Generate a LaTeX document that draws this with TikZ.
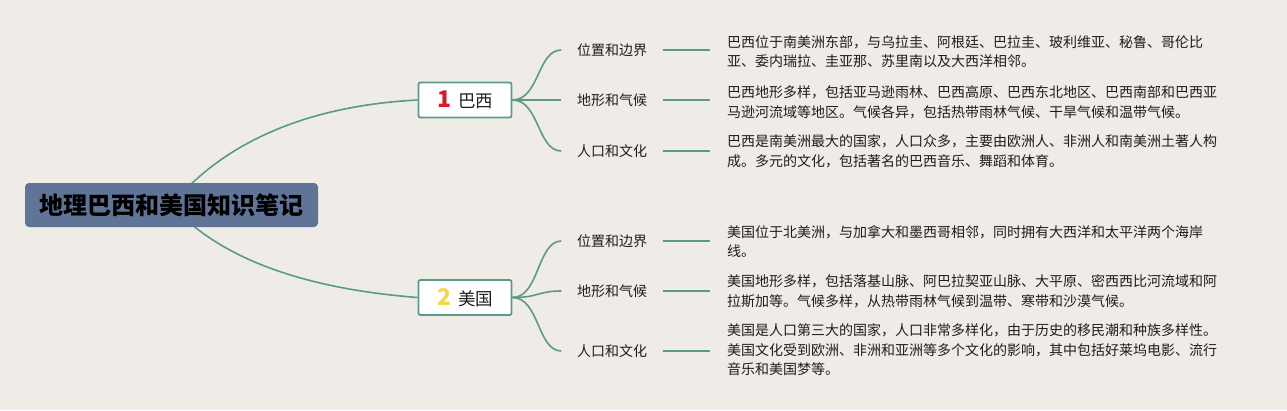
\documentclass[tikz,border=0pt]{standalone}
\usepackage{fontspec}
\setmainfont{Noto Sans CJK SC}
\usetikzlibrary{backgrounds}
\pgfdeclarelayer{canvas}
\pgfsetlayers{canvas,background,main}
\definecolor{bgc}{HTML}{EFEBE7}
\definecolor{teal}{HTML}{5B9A87}
\definecolor{rootc}{HTML}{5F7497}
\definecolor{numred}{HTML}{D7192B}
\definecolor{numyel}{HTML}{F2D84E}
\definecolor{txt}{HTML}{1E1E1E}
\tikzset{
  rootbox/.style={fill=rootc, rounded corners=4pt, minimum width=293pt, minimum height=44pt, inner sep=0pt, font=\fontsize{24}{24}\selectfont\bfseries, text=black},
  countrybox/.style={draw=teal, line width=1.8pt, fill=white, rounded corners=2pt, minimum width=93pt, minimum height=35pt, inner sep=0pt, text=txt},
  sublabel/.style={inner xsep=15.5pt, inner ysep=2pt, font=\fontsize{14}{14}\selectfont, text=txt},
  desc/.style={anchor=west, inner xsep=17pt, inner ysep=0pt, align=left, font=\fontsize{14}{19.6}\selectfont, text=txt},
  conn/.style={draw=teal, line width=1.6pt},
}
\newcommand{\cnum}[2]{{\fontsize{23}{23}\selectfont\bfseries\color{#1}#2}\hspace{7pt}}
\begin{document}
\begin{tikzpicture}[x=1pt,y=-1pt]
\begin{pgfonlayer}{canvas}
\fill[bgc] (0,0) rectangle (1287,410);
\end{pgfonlayer}
\useasboundingbox (0,0) rectangle (1287,410);

\node[rootbox] (root) at (171.5,205) {地理巴西和美国知识笔记};
\node[countrybox] (br) at (465,100) {\cnum{numred}{1}{\fontsize{17.5}{18}\selectfont 巴西}};
\node[countrybox] (us) at (465,297.5) {\cnum{numyel}{2}{\fontsize{17.5}{18}\selectfont 美国}};

\node[sublabel] (b1) at (612,50) {位置和边界};
\node[sublabel] (b2) at (612,100) {地形和气候};
\node[sublabel] (b3) at (612,151) {人口和文化};
\node[sublabel] (u1) at (612,241) {位置和边界};
\node[sublabel] (u2) at (612,291) {地形和气候};
\node[sublabel] (u3) at (612,351) {人口和文化};

\node[desc] (tb1) at (710,51.5) {巴西位于南美洲东部，与乌拉圭、阿根廷、巴拉圭、玻利维亚、秘鲁、哥伦比\\亚、委内瑞拉、圭亚那、苏里南以及大西洋相邻。};
\node[desc] (tb2) at (710,102.5) {巴西地形多样，包括亚马逊雨林、巴西高原、巴西东北地区、巴西南部和巴西亚\\马逊河流域等地区。气候各异，包括热带雨林气候、干旱气候和温带气候。};
\node[desc] (tb3) at (710,151.5) {巴西是南美洲最大的国家，人口众多，主要由欧洲人、非洲人和南美洲土著人构\\成。多元的文化，包括著名的巴西音乐、舞蹈和体育。};
\node[desc] (tu1) at (710,241.5) {美国位于北美洲，与加拿大和墨西哥相邻，同时拥有大西洋和太平洋两个海岸\\线。};
\node[desc] (tu2) at (710,291.5) {美国地形多样，包括落基山脉、阿巴拉契亚山脉、大平原、密西西比河流域和阿\\拉斯加等。气候多样，从热带雨林气候到温带、寒带和沙漠气候。};
\node[desc] (tu3) at (710,350) {美国是人口第三大的国家，人口非常多样化，由于历史的移民潮和种族多样性。\\美国文化受到欧洲、非洲和亚洲等多个文化的影响，其中包括好莱坞电影、流行\\音乐和美国梦等。};

\begin{scope}[on background layer]
\draw[conn] (root.center) .. controls (230,135) and (320,105) .. (br.west);
\draw[conn] (root.center) .. controls (225,265) and (320,290) .. (us.west);
\end{scope}

\foreach \s in {b1,b2,b3} {
  \draw[conn] (br.east) .. controls +(27,0) and +(-24,0) .. (\s.west);
}
\foreach \s in {u1,u2,u3} {
  \draw[conn] (us.east) .. controls +(27,0) and +(-24,0) .. (\s.west);
}
\foreach \a/\b in {b1/tb1,b2/tb2,b3/tb3,u1/tu1,u2/tu2,u3/tu3} {
  \draw[conn] (\a.east) -- (\a.east -| \b.west);
}
\end{tikzpicture}
\end{document}
